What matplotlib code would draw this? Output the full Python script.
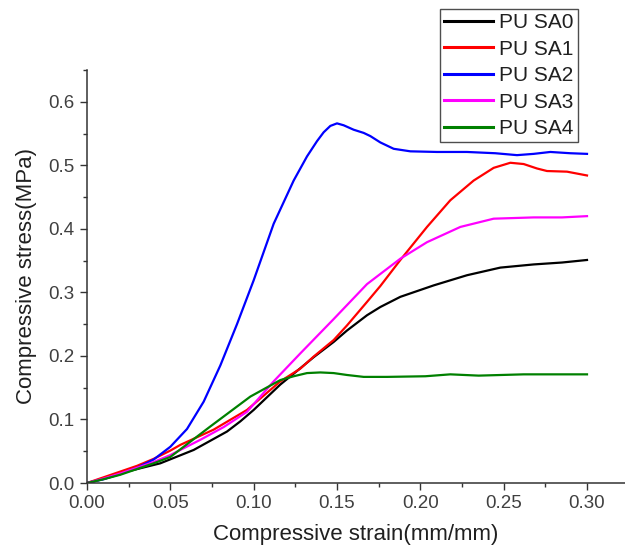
import matplotlib
matplotlib.use("Agg")
import matplotlib.pyplot as plt
from matplotlib.ticker import MultipleLocator, FormatStrFormatter

plt.rcParams['font.family'] = ['Liberation Sans', 'DejaVu Sans']

labels = ["PU SA0", "PU SA1", "PU SA2", "PU SA3", "PU SA4"]
colors = ["#000000", "#ff0000", "#0000ff", "#ff00ff", "#008000"]

strain0 = [0, 0.012, 0.024, 0.044, 0.064, 0.084, 0.092, 0.1, 0.116, 0.124, 0.136, 0.148,
           0.156, 0.168, 0.176, 0.188, 0.208, 0.228, 0.248, 0.268, 0.285, 0.3]
stress0 = [0, 0.008, 0.018, 0.031, 0.052, 0.081, 0.097, 0.115, 0.155, 0.172, 0.198, 0.222,
           0.240, 0.264, 0.277, 0.293, 0.311, 0.327, 0.339, 0.344, 0.347, 0.351]

strain1 = [0, 0.01, 0.02, 0.03, 0.04, 0.05, 0.056, 0.076, 0.096, 0.116, 0.128, 0.136, 0.148,
           0.156, 0.168, 0.176, 0.188, 0.204, 0.218, 0.232, 0.244, 0.254, 0.262, 0.27, 0.276,
           0.288, 0.3]
stress1 = [0, 0.009, 0.018, 0.027, 0.038, 0.051, 0.060, 0.084, 0.115, 0.160, 0.180, 0.199,
           0.225, 0.248, 0.285, 0.310, 0.351, 0.403, 0.445, 0.476, 0.496, 0.504, 0.502, 0.495,
           0.491, 0.490, 0.484]

strain2 = [0, 0.01, 0.02, 0.03, 0.04, 0.05, 0.06, 0.07, 0.08, 0.09, 0.1, 0.112,
           0.124, 0.132, 0.138, 0.142, 0.146, 0.150, 0.154, 0.160, 0.166, 0.170, 0.176, 0.184,
           0.194, 0.21, 0.228, 0.245, 0.258, 0.268, 0.278, 0.29, 0.3]
stress2 = [0, 0.006, 0.014, 0.024, 0.037, 0.057, 0.085, 0.128, 0.185, 0.250, 0.319,
           0.408, 0.476, 0.514, 0.538, 0.552, 0.562, 0.566, 0.563, 0.556, 0.551, 0.546, 0.536,
           0.526, 0.522, 0.521, 0.521, 0.519, 0.516, 0.518, 0.521, 0.519, 0.518]

strain3 = [0, 0.01, 0.02, 0.03, 0.04, 0.05, 0.068, 0.082, 0.096, 0.112, 0.128, 0.148, 0.168,
           0.188, 0.204, 0.224, 0.244, 0.268, 0.285, 0.3]
stress3 = [0, 0.007, 0.015, 0.024, 0.033, 0.044, 0.068, 0.088, 0.112, 0.160, 0.204, 0.258,
           0.313, 0.353, 0.379, 0.403, 0.416, 0.418, 0.418, 0.420]

strain4 = [0, 0.01, 0.02, 0.03, 0.04, 0.05, 0.074, 0.098, 0.116, 0.124, 0.132, 0.14, 0.148,
           0.156, 0.166, 0.18, 0.203, 0.218, 0.235, 0.262, 0.3]
stress4 = [0, 0.006, 0.013, 0.022, 0.031, 0.041, 0.089, 0.136, 0.162, 0.168, 0.173, 0.174,
           0.173, 0.170, 0.167, 0.167, 0.168, 0.171, 0.169, 0.171, 0.171]

strains = [strain0, strain1, strain2, strain3, strain4]
stresses = [stress0, stress1, stress2, stress3, stress4]

fig = plt.figure(figsize=(6.25, 5.51), dpi=100)
ax = fig.add_axes([87 / 625, 68 / 551, 1 - 87 / 625, 413 / 551])

handles = []
for s, v, c, lab in zip(strains, stresses, colors, labels):
    h, = ax.plot(s, v, color=c, lw=1.6, label=lab)
    handles.append(h)

ax.set_xlim(0, 0.3228)
ax.set_ylim(0, 0.65)
ax.xaxis.set_major_locator(MultipleLocator(0.05))
ax.xaxis.set_minor_locator(MultipleLocator(0.025))
ax.yaxis.set_major_locator(MultipleLocator(0.1))
ax.yaxis.set_minor_locator(MultipleLocator(0.05))
ax.xaxis.set_major_formatter(FormatStrFormatter('%.2f'))
ax.yaxis.set_major_formatter(FormatStrFormatter('%.1f'))

for side in ['top', 'right']:
    ax.spines[side].set_visible(False)
for side in ['left', 'bottom']:
    ax.spines[side].set_color('#333333')
    ax.spines[side].set_linewidth(1.1)

ax.tick_params(which='major', direction='out', length=5, width=1.0, color='#333333',
               labelsize=13.5, labelcolor='#404040', pad=4)
ax.tick_params(which='minor', direction='out', length=3, width=1.0, color='#333333')

ax.set_xlabel('Compressive strain(mm/mm)', fontsize=16, color='#202020', labelpad=8)
ax.set_ylabel('Compressive stress(MPa)', fontsize=16, color='#202020', labelpad=8)

leg = fig.legend(handles=handles, loc='upper left',
                 bbox_to_anchor=(440 / 625, 1 - 9 / 551), bbox_transform=fig.transFigure,
                 fontsize=15, frameon=True, fancybox=False, borderpad=0.2,
                 handlelength=2.35, handletextpad=0.3, labelspacing=0.36, borderaxespad=0)
leg.get_frame().set_edgecolor('#222222')
leg.get_frame().set_linewidth(1.0)
for t in leg.get_texts():
    t.set_color('#202020')
for l in leg.get_lines():
    l.set_linewidth(2.2)

fig.savefig('out.png', dpi=100)
